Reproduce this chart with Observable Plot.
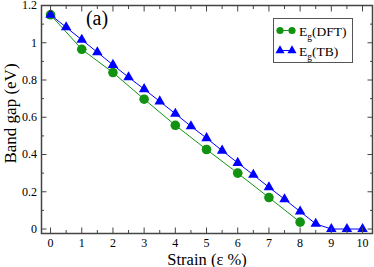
<!DOCTYPE html>
<html>
<head>
<meta charset="utf-8">
<script src="https://cdn.jsdelivr.net/npm/d3@7"></script>
<script src="https://cdn.jsdelivr.net/npm/@observablehq/plot@0.6"></script>
<style>
  html, body { margin: 0; padding: 0; background: #fff; }
  #wrap { position: relative; width: 374px; height: 267px; }
  #legend { position: absolute; left: 0; top: 0; }
</style>
</head>
<body>
<div id="wrap"></div>
<script>
// ---- data ----
const dftStrain = [0, 1, 2, 3, 4, 5, 6, 7, 8];
const dftGap    = [1.15, 0.965, 0.84, 0.697, 0.557, 0.427, 0.30, 0.169, 0.037];
const tbStrain  = [0, 0.5, 1, 1.5, 2, 2.5, 3, 3.5, 4, 4.5, 5, 5.5, 6, 6.5, 7, 7.5, 8, 8.5, 9, 9.5, 10];
const tbGap     = [1.15, 1.083, 1.016, 0.949, 0.881, 0.815, 0.751, 0.685, 0.619, 0.552, 0.488, 0.421, 0.355, 0.291, 0.224, 0.16, 0.094, 0.028, 0, 0, 0];
const xMajor = [0, 1, 2, 3, 4, 5, 6, 7, 8, 9, 10];
const xMinor = [0.5, 1.5, 2.5, 3.5, 4.5, 5.5, 6.5, 7.5, 8.5, 9.5];
const yMajor = [0, 0.2, 0.4, 0.6, 0.8, 1.0, 1.2];
const yMinor = [0.1, 0.3, 0.5, 0.7, 0.9, 1.1];
const yTickLabels = ["0", "0.2", "0.4", "0.6", "0.8", "1", "1.2"];
const seriesNames = ["DFT", "TB"];

const dft = dftStrain.map((x, i) => ({x, y: dftGap[i]}));
const tb = tbStrain.map((x, i) => ({x, y: tbGap[i]}));

const green = "#119211";
const blue = "#0000ff";
const axisColor = "#444";
const FONT = "Liberation Serif";

const chart = Plot.plot({
  width: 374,
  height: 267,
  marginLeft: 41,
  marginRight: 2,
  marginTop: 5,
  marginBottom: 34,
  style: {fontFamily: FONT, fontSize: "12px", color: "black", background: "white", overflow: "visible"},
  x: {domain: [-0.29, 10.32], label: null},
  y: {domain: [-0.024, 1.2], label: null},
  marks: [
    Plot.line(dft, {x: "x", y: "y", stroke: green, strokeWidth: 1}),
    Plot.line(tb, {x: "x", y: "y", stroke: blue, strokeWidth: 1}),
    Plot.dot(dft, {x: "x", y: "y", r: 4.8, fill: green, stroke: null}),
    Plot.dot(tb, {x: "x", y: "y", r: 3.9, symbol: "triangle", fill: blue, stroke: null}),
    // x axis (bottom labels + inward ticks)
    Plot.axisX(xMajor, {anchor: "bottom", tickSize: -5.5, tickPadding: 10.5, stroke: axisColor, fontFamily: FONT, fontSize: 12, tickFormat: d => String(d), label: null}),
    Plot.axisX(xMinor, {anchor: "bottom", tickSize: -3, fill: "none", stroke: axisColor, label: null}),
    Plot.axisX(xMajor, {anchor: "top", tickSize: -5.5, fill: "none", stroke: axisColor, label: null}),
    Plot.axisX(xMinor, {anchor: "top", tickSize: -3, fill: "none", stroke: axisColor, label: null}),
    // y axis
    Plot.axisY(yMajor, {anchor: "left", tickSize: -5.5, tickPadding: 10, stroke: axisColor, fontFamily: FONT, fontSize: 12, tickFormat: d => yTickLabels[yMajor.indexOf(d)], label: null}),
    Plot.axisY(yMinor, {anchor: "left", tickSize: -3, fill: "none", stroke: axisColor, label: null}),
    Plot.axisY(yMajor, {anchor: "right", tickSize: -5.5, fill: "none", stroke: axisColor, label: null}),
    Plot.axisY(yMinor, {anchor: "right", tickSize: -3, fill: "none", stroke: axisColor, label: null}),
    Plot.frame({stroke: axisColor, strokeWidth: 1.5}),
    // axis titles
    Plot.text(["Strain (ε %)"], {frameAnchor: "bottom", dy: 31, lineAnchor: "bottom", textAnchor: "middle", fontSize: 16.5, fontFamily: FONT}),
    Plot.text(["Band gap (eV)"], {frameAnchor: "left", dx: -30.5, dy: -6, rotate: -90, lineAnchor: "middle", textAnchor: "middle", fontSize: 17, fontFamily: FONT}),
    // panel label
    Plot.text(["(a)"], {frameAnchor: "top-left", dx: 55.5, dy: 19.5, lineAnchor: "bottom", textAnchor: "middle", fontSize: 20, fontFamily: FONT})
  ]
});

chart.setAttribute("font-family", FONT);
chart.querySelectorAll("text").forEach(el => el.setAttribute("font-family", FONT));

const wrap = document.getElementById("wrap");
wrap.appendChild(chart);

// legend overlay
const lg = d3.select(wrap).append("svg")
  .attr("id", "legend")
  .attr("width", 374).attr("height", 267)
  .attr("font-family", FONT)
  .style("pointer-events", "none");

lg.append("rect").attr("x", 273.5).attr("y", 18.5).attr("width", 79).attr("height", 44)
  .attr("fill", "white").attr("stroke", "#555").attr("stroke-width", 1);

const rows = [
  {name: seriesNames[0], color: green, sym: d3.symbolCircle, size: Math.PI * 3.6 * 3.6, cy: 30.5},
  {name: seriesNames[1], color: blue, sym: d3.symbolTriangle, size: 36, cy: 50.5}
];
rows.forEach(r => {
  lg.append("line").attr("x1", 280).attr("x2", 292).attr("y1", r.cy).attr("y2", r.cy)
    .attr("stroke", r.color).attr("stroke-width", 1);
  [280, 292].forEach(cx => {
    lg.append("path").attr("d", d3.symbol(r.sym, r.size)())
      .attr("transform", `translate(${cx},${r.cy})`).attr("fill", r.color);
  });
  const t = lg.append("text").attr("x", 299).attr("y", r.cy + 5)
    .attr("font-family", FONT).attr("font-size", 13.5).attr("fill", "black");
  t.append("tspan").text("E");
  t.append("tspan").attr("font-size", 9.5).attr("dy", 4).text("g");
  t.append("tspan").attr("dy", -4).text(`(${r.name})`);
});
</script>
</body>
</html>
